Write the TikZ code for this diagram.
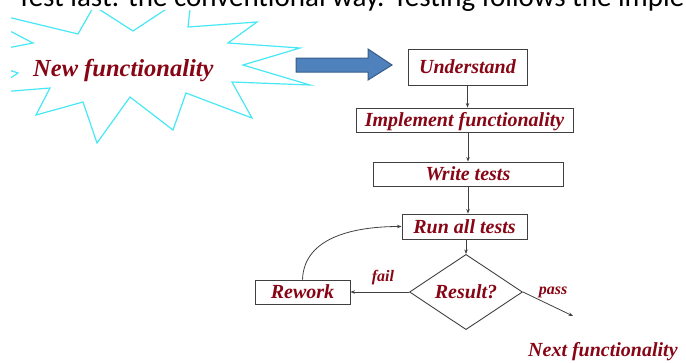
\documentclass[tikz,border=0pt]{standalone}
\usepackage{fontspec}
\setmainfont{Liberation Serif}
\newfontfamily\titlefont{Carlito}
\usetikzlibrary{shapes.geometric,arrows.meta}

\definecolor{starcyan}{RGB}{70,232,245}
\definecolor{labelred}{RGB}{135,5,20}
\definecolor{arrowblue}{RGB}{79,129,189}
\definecolor{arrowedge}{RGB}{56,93,138}
\definecolor{linegrey}{RGB}{64,64,64}

\tikzset{
  stepbox/.style={draw=linegrey, line width=0.9pt, rectangle, inner sep=0pt,
    text=labelred, font=\fontsize{20pt}{24pt}\selectfont\bfseries\itshape,
    text height=13pt, text depth=0pt},
  decision/.style={stepbox, shape=diamond},
  flowlabel/.style={text=labelred, inner sep=0pt, anchor=base,
    font=\fontsize{16pt}{19pt}\selectfont\bfseries\itshape},
  conn/.style={draw=linegrey, line width=0.8pt,
    -{Stealth[length=4.5pt,width=3.5pt]}},
}

\begin{document}
\begin{tikzpicture}[x=1pt,y=-1pt]
\useasboundingbox (0,0) rectangle (686,362);

% heading line running off the top of the page
\node[anchor=base west, inner sep=0pt, font=\titlefont\fontsize{29pt}{34pt}\selectfont]
  (heading) at (17,6.5) {Test last: the conventional way. Testing follows the implementation};

% starburst around the new functionality
\begin{scope}
  \clip (11,10) rectangle (686,362);
  \draw[starcyan, line width=1.2pt, line join=miter]
    (-38,6) -- (33,43) -- (-34,56) -- (18,73) -- (-12,93) -- (50,88)
    -- (36,115) -- (83,102) -- (97,143) -- (130,97) -- (173,130)
    -- (186,93) -- (252,118) -- (232,82) -- (310,85) -- (243,65)
    -- (300,48) -- (228,43) -- (257,22) -- (188,27) -- (192,-8)
    -- (133,31) -- (94,6) -- (78,34) -- cycle;
\end{scope}
\node[anchor=base west, inner sep=0pt, text=labelred,
  font=\fontsize{24.5pt}{29pt}\selectfont\bfseries\itshape]
  (newfn) at (33,76) {New functionality};

% block arrow
\draw[fill=arrowblue, draw=arrowedge, line width=1pt, line join=miter]
  (296,58) -- (368,58) -- (368,49) -- (392,65) -- (368,80) -- (368,72)
  -- (296,72) -- cycle;

% process steps
\node[stepbox, minimum width=119pt, minimum height=36pt] (understand) at (467.5,67) {Understand};
\node[stepbox, minimum width=217pt, minimum height=24pt] (implement) at (464.5,120) {Implement functionality};
\node[stepbox, minimum width=190pt, minimum height=24pt] (writetests) at (468,174) {Write tests};
\node[stepbox, minimum width=125pt, minimum height=25pt] (runall) at (464.5,226.5) {Run all tests};
\node[decision, minimum width=113pt, minimum height=58pt] (result) at (466,292) {Result?};
\node[stepbox, minimum width=95pt, minimum height=24pt] (rework) at (302.5,292) {Rework};

% connectors
\draw[conn] (understand.south) -- (understand.south |- implement.north);
\draw[conn] (implement.south -| writetests) -- (writetests.north);
\draw[conn] (writetests.south) -- (writetests.south |- runall.north);
\draw[conn] (runall.south -| result) -- (result.north);
\draw[conn] (result.west) -- (rework.east);
\node[flowlabel] (faillabel) at (383,281) {fail};
\draw[conn] (rework.north) to[out=88,in=180] (runall.west);
\coordinate (passend) at (573,316);
\draw[conn] (result.east) -- (passend);
\node[flowlabel] (passlabel) at (553,294.5) {pass};

\node[anchor=base west, inner sep=0pt, text=labelred,
  font=\fontsize{20pt}{24pt}\selectfont\bfseries\itshape]
  (nextfn) at (528,356.5) {Next functionality};
\end{tikzpicture}
\end{document}
